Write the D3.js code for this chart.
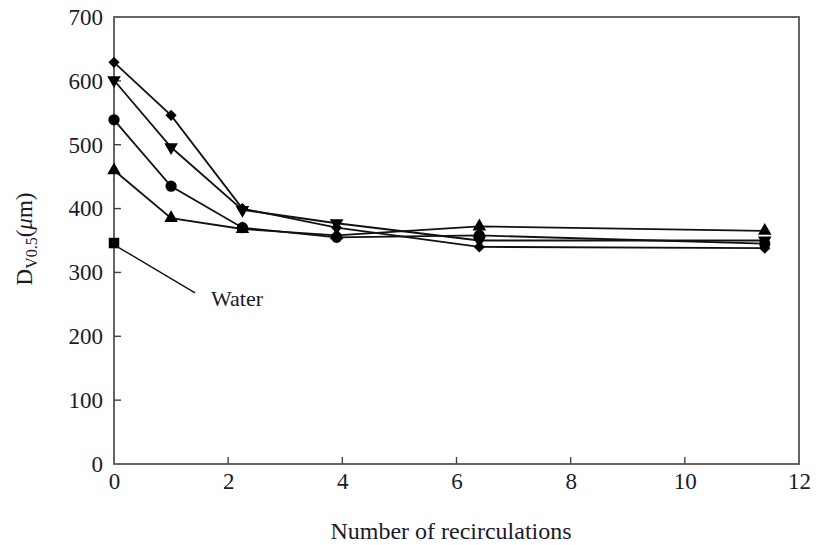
<!DOCTYPE html>
<html>
<head>
<meta charset="utf-8">
<script src="https://cdn.jsdelivr.net/npm/d3@7"></script>
<style>
  body { margin: 0; background: #fff; }
  text { font-family: "Liberation Serif", "DejaVu Serif", serif; fill: #1a1a2a; }
</style>
</head>
<body>
<div id="chart"></div>
<script>
// data
var recirculations = [0, 1, 2.25, 3.9, 6.4, 11.4];
var diamondVals  = [629, 546, 400, 370, 340, 338];
var downTriVals  = [601, 496, 398, 377, 350, 350];
var circleVals   = [539, 435, 370, 355, 358, 345];
var upTriVals    = [460, 385, 368, 358, 372, 365];
var waterVals    = [346];
var xTicks = [0, 2, 4, 6, 8, 10, 12];
var yTicks = [0, 100, 200, 300, 400, 500, 600, 700];

var W = 821, H = 545;
var svg = d3.select("#chart").append("svg")
            .attr("width", W).attr("height", H);

var x = d3.scaleLinear().domain([0, 12]).range([114, 799]);
var y = d3.scaleLinear().domain([0, 700]).range([464, 17]);

// frame
svg.append("rect")
   .attr("x", x(0)).attr("y", y(700))
   .attr("width", x(12) - x(0)).attr("height", y(0) - y(700))
   .attr("fill", "none").attr("stroke", "#555").attr("stroke-width", 1.8);

// axes with inward ticks
var xAxis = svg.append("g")
   .attr("transform", "translate(0," + y(0) + ")")
   .call(d3.axisBottom(x).tickValues(xTicks).tickSize(0).tickPadding(9));
xAxis.select(".domain").remove();
xAxis.selectAll("text").attr("font-size", 23).attr("font-family", "Liberation Serif").attr("fill", "#141428");

svg.append("g").selectAll("line")
   .data(xTicks.filter(function(d){ return d > 0 && d < 12; }))
   .enter().append("line")
   .attr("x1", function(d){ return x(d); }).attr("x2", function(d){ return x(d); })
   .attr("y1", y(0)).attr("y2", y(0) - 7)
   .attr("stroke", "#444").attr("stroke-width", 1.4);

var yAxis = svg.append("g")
   .attr("transform", "translate(" + x(0) + ",0)")
   .call(d3.axisLeft(y).tickValues(yTicks).tickSize(0).tickPadding(11));
yAxis.select(".domain").remove();
yAxis.selectAll("text").attr("font-size", 23).attr("font-family", "Liberation Serif").attr("fill", "#141428");

svg.append("g").selectAll("line")
   .data(yTicks.filter(function(d){ return d > 0 && d < 700; }))
   .enter().append("line")
   .attr("x1", x(0)).attr("x2", x(0) + 7)
   .attr("y1", function(d){ return y(d); }).attr("y2", function(d){ return y(d); })
   .attr("stroke", "#444").attr("stroke-width", 1.4);

// series (diamond = square turned 45deg)
var series = [
  {vals: diamondVals, sym: d3.symbolSquare, size: 62, rot: 45},
  {vals: downTriVals, sym: d3.symbolTriangle, size: 80, rot: 180},
  {vals: circleVals,  sym: d3.symbolCircle, size: 100, rot: 0},
  {vals: upTriVals,   sym: d3.symbolTriangle, size: 80, rot: 0}
];

var line = d3.line()
   .x(function(d, i){ return x(recirculations[i]); })
   .y(function(d){ return y(d); });

series.forEach(function(s){
  svg.append("path")
     .attr("d", line(s.vals))
     .attr("fill", "none").attr("stroke", "#111").attr("stroke-width", 1.8);
});

series.forEach(function(s){
  svg.append("g").selectAll("path")
     .data(s.vals)
     .enter().append("path")
     .attr("d", d3.symbol().type(s.sym).size(s.size))
     .attr("transform", function(d, i){
        return "translate(" + x(recirculations[i]) + "," + y(d) + ") rotate(" + s.rot + ")";
     })
     .attr("fill", "#000");
});

// water point
svg.append("g").selectAll("path")
   .data(waterVals)
   .enter().append("path")
   .attr("d", d3.symbol().type(d3.symbolSquare).size(110))
   .attr("transform", function(d, i){ return "translate(" + x(recirculations[i]) + "," + y(d) + ")"; })
   .attr("fill", "#000");

svg.append("line")
   .attr("x1", x(0) + 4).attr("y1", y(waterVals[0]) + 4)
   .attr("x2", x(1.42)).attr("y2", y(268))
   .attr("stroke", "#111").attr("stroke-width", 1.4);

svg.append("text")
   .attr("x", 211).attr("y", 306)
   .attr("font-size", 22)
   .text("Water");

// axis titles
svg.append("text")
   .attr("x", 451).attr("y", 539)
   .attr("text-anchor", "middle").attr("font-size", 24)
   .text("Number of recirculations");

var yt = svg.append("text")
   .attr("transform", "translate(32,239) rotate(-90)")
   .attr("text-anchor", "middle").attr("font-size", 23);
yt.append("tspan").text("D");
yt.append("tspan").attr("font-size", 16).attr("dy", 5).text("V0.5");
yt.append("tspan").attr("dy", -5).text("(");
yt.append("tspan").attr("font-style", "italic").text("μ");
yt.append("tspan").text("m)");
</script>
</body>
</html>
